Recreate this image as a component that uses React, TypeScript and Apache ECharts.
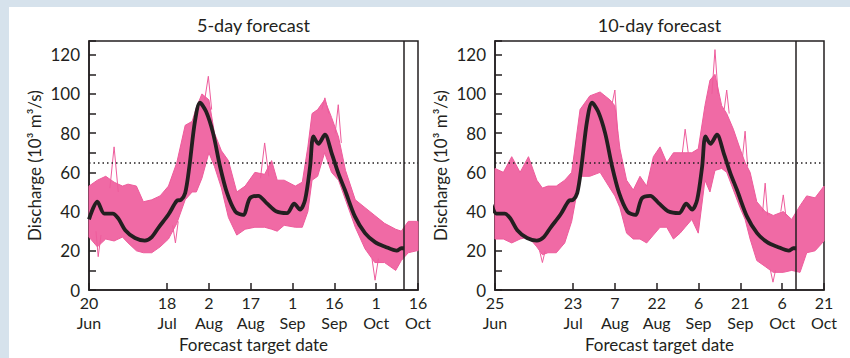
import React, { useEffect, useRef } from "react";
import * as echarts from "echarts";

// Days counted from 20 June
const obsDays = [0, 3, 5.5, 8.5, 10.5, 13, 16.5, 20, 22.5, 25, 28.5, 31.5, 33, 34.5, 36, 38, 39.8, 42, 44.5, 47, 49.5, 52.5, 55.3, 57.7, 60.7, 63.7, 67.3, 71, 73.6, 75.7, 77.5, 79.3, 80.5, 82.3, 84.6, 87, 89.4, 91.8, 95.4, 99, 102.6, 106.2, 110.4, 112, 113];
const obsVals = [36, 45, 39, 39, 36.5, 30.5, 26.5, 25.2, 27, 32, 38.5, 45.5, 46, 49.5, 63, 86, 95.5, 91, 80, 63, 49.5, 40, 38.3, 46.8, 48, 44.3, 40, 39.2, 44, 41, 46, 63, 78.3, 74.6, 79.2, 70, 59.6, 51, 37.4, 29, 24.4, 22.1, 20.1, 21.3, 21.3];

const band5Days = [0, 3, 6, 9, 12, 14, 17, 19.5, 22.5, 25.5, 28.5, 31.5, 34.5, 37, 38.5, 40.5, 43, 45, 47.5, 50, 53, 56, 59.5, 63, 65.5, 67.5, 70, 74, 76.5, 78.5, 80, 82, 84.5, 87, 89.5, 92, 95.5, 99, 102.5, 106, 110, 112, 114.5, 117.5, 118];
const band5Low = [27, 22, 26, 25, 27, 24, 20, 19, 19, 22, 26, 34, 46, 50, 50, 57, 70, 63, 52, 37, 28, 31, 32, 32, 31, 30, 33, 32, 32, 40, 56, 58, 70, 60, 56, 46, 32, 21, 14, 14, 10, 15, 19, 20, 20];
const band5High = [53, 56, 58, 55, 53, 54, 53, 45, 46, 48, 53, 65, 84, 86, 93, 100, 97, 80, 71, 66, 50, 53, 60, 59, 66, 56, 56, 53, 55, 73, 90, 92, 97, 88, 78, 61, 46, 42, 38, 34, 31, 30, 35, 35, 35];

const spikes5 = [
  [[7.5, 52], [9, 73], [10.5, 50]],
  [[41.5, 97], [42.8, 109], [44, 92]],
  [[61.5, 57], [63, 75], [64.5, 58]],
  [[83.5, 92], [84.6, 98], [86, 90]],
  [[88.3, 80], [89.4, 94.5], [90.5, 75]],
  [[2.5, 30], [3.3, 17], [4.3, 28]],
  [[30, 33], [31, 24], [32, 35]],
  [[101.5, 16], [102.6, 5], [103.8, 16]],
];

const band10Days = [5, 8, 11, 14, 17, 20, 22, 24, 27, 30, 32.5, 35.5, 39, 42.7, 46.2, 48, 49.8, 52.2, 54.6, 57, 59.4, 61.8, 64.2, 66.6, 69, 71.4, 73.2, 75.6, 77.9, 80.3, 82.1, 83.9, 86.3, 88.1, 90.5, 92.9, 94.7, 96.5, 98.9, 101.9, 104.8, 108.4, 111.4, 114.4, 116.8, 119.8, 123];
const band10Low = [26, 26, 24, 26, 27, 22, 18, 19, 19, 24, 35, 58, 58, 60, 52, 48, 42, 29, 26, 26, 24, 28, 32, 32, 26, 29, 32, 36, 29, 56, 50, 61, 62, 60, 51, 42, 36, 26, 15, 12, 9, 9, 10, 9, 19, 20, 25];
const band10High = [62, 60, 68, 60, 68, 56, 52, 53, 53, 56, 60, 92, 99, 101, 97, 94, 72, 56, 51, 58, 53, 68, 73, 65, 70, 70, 70, 70, 72, 94, 107, 110, 94, 90, 82, 72, 65, 60, 45, 40, 38, 40, 36, 43, 48, 47, 53];

const spikes10 = [
  [[82.8, 100], [83.9, 122.6], [85, 100]],
  [[87.2, 92], [88.1, 102], [89, 90]],
  [[72.2, 70], [73.2, 82], [74.3, 70]],
  [[93.8, 68], [94.7, 81], [95.6, 63]],
  [[101, 40], [101.9, 54.5], [102.8, 38]],
  [[107.5, 40], [108.4, 48.5], [109.3, 38]],
  [[47, 95], [48, 102], [49, 80]],
  [[21, 20], [22, 14], [23, 20]],
  [[103.8, 10], [104.7, 4], [105.6, 10]],
];

const ticks5 = [0, 28, 43, 58, 73, 88, 103, 118];
const ticks10 = [5, 33, 48, 63, 78, 93, 108, 123];
const titles = ["5-day forecast", "10-day forecast"];
const threshold = 65;
const issueDay = 113; // 11 Oct

const MONTHS = ["Jan", "Feb", "Mar", "Apr", "May", "Jun", "Jul", "Aug", "Sep", "Oct", "Nov", "Dec"];
const toDate = (v: number) => new Date(2011, 5, 20 + Math.round(v));
const fmtDayNum = (v: number) => String(toDate(v).getDate());
const fmtMonth = (v: number) => MONTHS[toDate(v).getMonth()];

const FONT = 'Lato, "Noto Sans", sans-serif';
const INK = "#231f20";
const PINK = "#ee5c9c";
const PINK_FILL = "#f06aa5";

export default function App() {
  const ref = useRef<HTMLDivElement>(null);
  useEffect(() => {
    if (!ref.current) return;
    const chart = echarts.init(ref.current, undefined, { renderer: "svg" });
    const grids = [
      { left: 80, top: 34, width: 329, height: 249 },
      { left: 486, top: 34, width: 329, height: 249 },
    ];
    const ranges = [
      [0, 118],
      [5, 123],
    ];
    const tickSets = [ticks5, ticks10];
    const bands = [
      [band5Days, band5Low, band5High],
      [band10Days, band10Low, band10High],
    ];
    const spikes = [spikes5, spikes10];

    const xAxis: any[] = [];
    const yAxis: any[] = [];
    const series: any[] = [];
    for (let g = 0; g < 2; g++) {
      const xi = xAxis.length;
      xAxis.push({
        type: "value",
        gridIndex: g,
        position: "bottom",
        min: ranges[g][0],
        max: ranges[g][1],
        axisLine: { show: true, lineStyle: { color: INK, width: 1.5 } },
        axisTick: { show: true, inside: true, length: 7, customValues: tickSets[g], lineStyle: { color: INK, width: 1.5 } },
        axisLabel: {
          customValues: tickSets[g],
          formatter: fmtDayNum,
          fontSize: 16,
          color: INK,
          fontFamily: FONT,
          margin: 4,
        },
        splitLine: { show: false },
        name: "Forecast target date",
        nameLocation: "middle",
        nameGap: 46,
        nameTextStyle: { fontSize: 17, color: INK, fontFamily: FONT },
      });
      xAxis.push({
        type: "value",
        gridIndex: g,
        position: "bottom",
        offset: 0,
        min: ranges[g][0],
        max: ranges[g][1],
        axisLine: { show: false },
        axisTick: { show: false },
        axisLabel: {
          customValues: tickSets[g],
          formatter: fmtMonth,
          fontSize: 16,
          color: INK,
          fontFamily: FONT,
          margin: 24,
        },
        splitLine: { show: false },
      });
      yAxis.push({
        type: "value",
        gridIndex: g,
        min: 0,
        max: 127,
        interval: 10,
        axisLine: { show: true, lineStyle: { color: INK, width: 1.5 } },
        axisTick: { show: true, inside: true, length: 7, lineStyle: { color: INK, width: 1.5 } },
        axisLabel: {
          formatter: (v: number) => (v % 20 === 0 ? String(v) : ""),
          fontSize: 17,
          color: INK,
          fontFamily: FONT,
          margin: 9,
        },
        splitLine: { show: false },
        name: "Discharge (10³ m³/s)",
        nameLocation: "middle",
        nameGap: 46,
        nameRotate: 90,
        nameTextStyle: { fontSize: 17, color: INK, fontFamily: FONT },
      });
      const [days, low, high] = bands[g];
      series.push({
        type: "custom",
        xAxisIndex: xi,
        yAxisIndex: g,
        data: [[days[0], low[0]]],
        z: 2,
        renderItem: (_p: any, api: any) => {
          const top = days.map((d, i) => api.coord([d, high[i]]));
          const bottom = days.map((d, i) => api.coord([d, low[i]])).reverse();
          return {
            type: "polygon",
            shape: { points: top.concat(bottom) },
            style: { fill: PINK_FILL, stroke: PINK, lineWidth: 1 },
          };
        },
      });
      spikes[g].forEach((s) => {
        series.push({
          type: "line",
          xAxisIndex: xi,
          yAxisIndex: g,
          symbol: "none",
          data: s,
          lineStyle: { color: PINK, width: 1 },
          z: 2,
        });
      });
      series.push({
        type: "line",
        xAxisIndex: xi,
        yAxisIndex: g,
        symbol: "none",
        smooth: 0.3,
        data: obsDays.map((d, i) => [d, obsVals[i]]),
        lineStyle: { color: INK, width: 3.8 },
        z: 5,
        markLine: {
          silent: true,
          symbol: ["none", "none"],
          label: { show: false },
          data: [
            { yAxis: threshold, lineStyle: { color: INK, type: [1.5, 3], width: 1.5 } },
            { xAxis: issueDay, lineStyle: { color: INK, type: "solid", width: 1.5 } },
          ],
        },
      });
    }

    chart.setOption({
      animation: false,
      grid: grids.map((gr) => ({ ...gr, show: true, borderColor: INK, borderWidth: 1.5, backgroundColor: "transparent" })),
      xAxis,
      yAxis,
      series,
      graphic: titles.map((t, i) => ({
        type: "text",
        x: grids[i].left + grids[i].width / 2,
        y: 18,
        style: {
          text: t,
          align: "center",
          verticalAlign: "middle",
          fontSize: 18,
          fontFamily: FONT,
          fill: INK,
        },
      })),
    });
    return () => chart.dispose();
  }, []);

  return (
    <div style={{ position: "fixed", left: 0, top: 0, width: 850, height: 358, background: "#d6e2ec" }}>
      <div
        ref={ref}
        style={{ position: "absolute", left: 9, top: 7, width: 841, height: 351, background: "#fff" }}
      />
    </div>
  );
}
